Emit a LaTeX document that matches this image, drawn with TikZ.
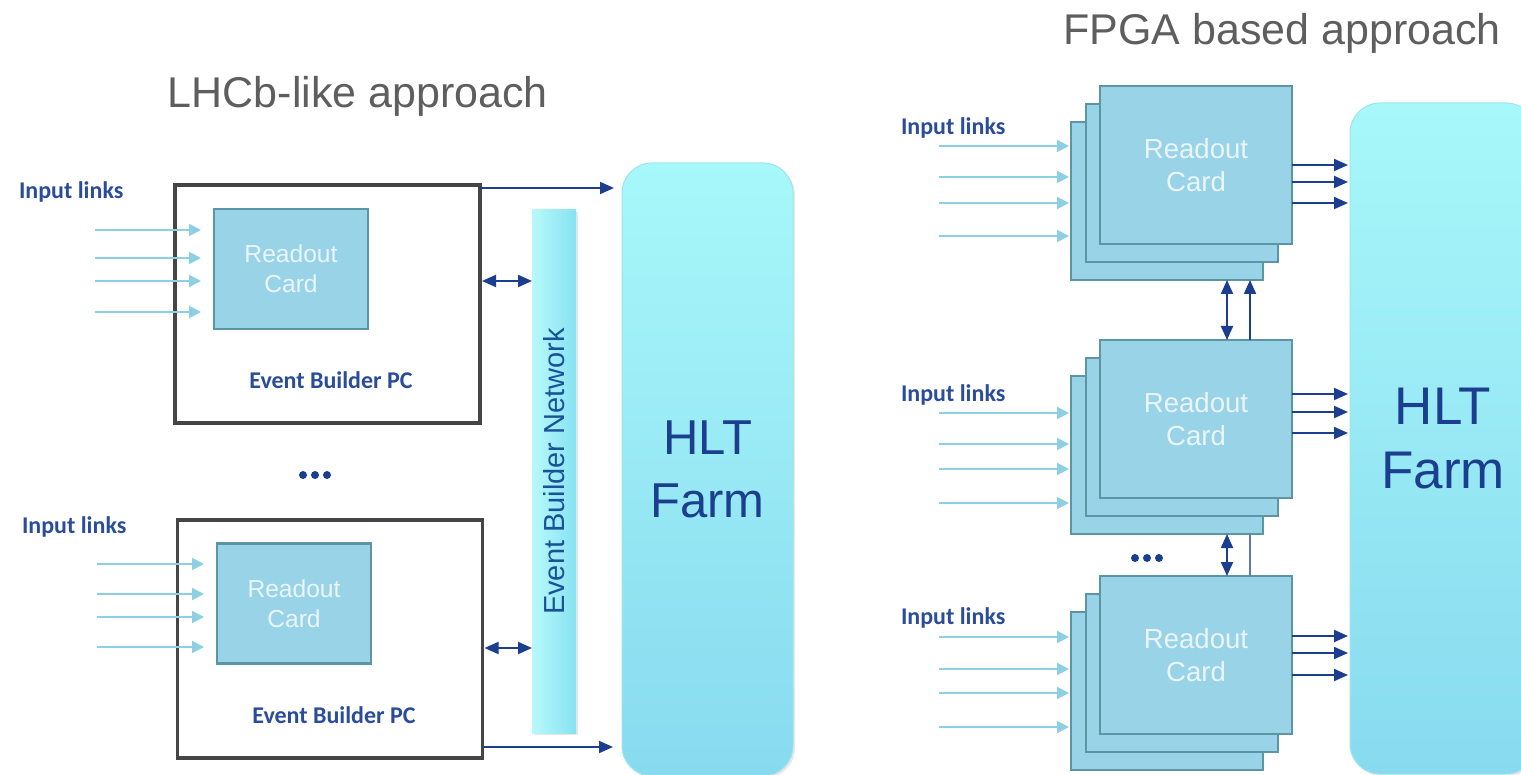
\documentclass[tikz,border=0pt]{standalone}
\usepackage{fontspec}
\setmainfont{Liberation Sans}
\newfontfamily\calfont{Carlito}
\usetikzlibrary{arrows.meta,shadows}

\definecolor{titlegray}{HTML}{5E5E5E}
\definecolor{navy}{HTML}{1B3F8E}
\definecolor{labelblue}{HTML}{2A4C9A}
\definecolor{linkblue}{HTML}{8DD0E2}
\definecolor{cardfill}{HTML}{98D3E7}
\definecolor{cardedge}{HTML}{5C96A5}
\definecolor{cardtext}{HTML}{EAF5F9}
\definecolor{pcedge}{HTML}{454545}
\definecolor{hlttop}{HTML}{A7F8FA}
\definecolor{hltbot}{HTML}{88DAEF}
\definecolor{hltedge}{HTML}{9EE4EE}
\definecolor{netleft}{HTML}{B8F9FB}
\definecolor{netright}{HTML}{86E2F1}

\begin{document}
\begin{tikzpicture}[x=0.5pt,y=-0.5pt,
  every node/.style={inner sep=0pt, outer sep=0pt},
  title/.style={font=\fontsize{21.5}{26}\selectfont, text=titlegray, anchor=base},
  pcbox/.style={draw=pcedge, line width=1.6pt, fill=white,
                minimum width=152.5pt, minimum height=119pt},
  smallcard/.style={draw=cardedge, line width=1.2pt, fill=cardfill, text=cardtext,
                    align=center, minimum width=77pt, minimum height=60pt,
                    font=\fontsize{12.3}{15}\selectfont},
  bigcard/.style={draw=cardedge, line width=1.4pt, fill=cardfill, text=cardtext,
                  align=center, minimum width=96pt, minimum height=79pt,
                  font=\fontsize{13.8}{16.5}\selectfont},
  pclabel/.style={font=\calfont\bfseries\fontsize{12}{15}\selectfont, text=labelblue},
  linklabel/.style={font=\calfont\bfseries\fontsize{12}{15}\selectfont, text=labelblue, anchor=west},
  hltbox/.style={draw=hltedge, line width=0.5pt, top color=hlttop, bottom color=hltbot,
                 rounded corners=15pt, text=navy, align=center,
                 drop shadow={opacity=0.18, shadow xshift=1pt, shadow yshift=-1pt}},
  netbar/.style={left color=netleft, right color=netright, draw=none,
                 minimum width=22pt, minimum height=261.5pt,
                 drop shadow={opacity=0.18, shadow xshift=1pt, shadow yshift=-1pt}},
  inlink/.style={draw=linkblue, line width=1pt, -{Triangle[length=6pt,width=6pt]}},
  outlink/.style={draw=navy, line width=1pt, -{Triangle[length=7pt,width=6pt]}},
  bilink/.style={draw=navy, line width=1pt,
                 {Triangle[length=7pt,width=6pt]}-{Triangle[length=7pt,width=6pt]}},
  plainlink/.style={draw=navy!70, line width=1pt},
  dot/.style={fill=navy}
]
\path[clip] (0,0) rectangle (1521,775);
\useasboundingbox (0,0) rectangle (1521,775);

% ---------- titles ----------
\node[title] (titleL) at (358,108) {LHCb-like approach};
\node[title] (titleR) at (1282,45) {FPGA based approach};

% ---------- LHCb-like: event builder PCs ----------
\node[pcbox] (pc1) at (327.5,304) {};
\node[pcbox] (pc2) at (330,639) {};
\node[smallcard] (rc1) at (291,269) {Readout\\Card};
\node[smallcard] (rc2) at (294,603.5) {Readout\\Card};
\node[pclabel] (pcl1) at (331,380) {Event Builder PC};
\node[pclabel] (pcl2) at (334,715) {Event Builder PC};
\node[linklabel] (inl1) at (19,192) {Input links};
\node[linklabel] (inl2) at (22,527) {Input links};

\foreach \y [count=\i] in {230,258,281,312} {
  \coordinate (a\i) at (95,\y);
  \draw[inlink, shorten >=6.5pt] (a\i) -- (rc1.west |- a\i);
}
\foreach \y [count=\i] in {564,594,617,647} {
  \coordinate (b\i) at (97,\y);
  \draw[inlink, shorten >=6.5pt] (b\i) -- (rc2.west |- b\i);
}

% vertical ellipsis between the two PCs
\foreach \x in {303,315,327} \fill[dot] (\x,475) circle (2pt);

% ---------- event builder network and HLT farm ----------
\node[netbar] (net) at (554,471.5) {};
\node[rotate=90, text=navy!90!cyan, font=\fontsize{14.5}{17}\selectfont] (netl) at (net.center) {Event Builder Network};

\node[hltbox, minimum width=85.5pt, minimum height=306.5pt,
      font=\fontsize{24.5}{31.5}\selectfont] (hltL) at (707.5,469.5) {HLT\\Farm};

\draw[outlink, shorten >=4pt] (pc1.east |- 0,188) -- (hltL.west |- 0,188);
\draw[outlink, shorten >=4.5pt] (pc2.east |- 0,747) -- (hltL.west |- 0,747);
\draw[bilink, shorten <=1pt] (pc1.east |- 0,281) -- (net.west |- 0,281);
\draw[bilink, shorten <=1pt] (pc2.east |- 0,648) -- (net.west |- 0,648);

% ---------- FPGA based: stacked readout cards ----------
\foreach \k/\t in {1/86,2/340,3/576} {
  \node[bigcard] (back\k) at (1167,\t+115) {};
  \node[bigcard] (mid\k)  at (1182,\t+97) {};
  \node[bigcard] (front\k) at (1196,\t+79) {Readout\\Card};
}

\node[linklabel] (inr1) at (901,128) {Input links};
\node[linklabel] (inr2) at (901,395) {Input links};
\node[linklabel] (inr3) at (901,618) {Input links};

\foreach \y [count=\i] in {146,177,203,236} {
  \coordinate (c\i) at (939,\y);
  \draw[inlink, shorten >=1pt] (c\i) -- (back1.west |- c\i);
}
\foreach \y [count=\i] in {413,444,469,503} {
  \coordinate (d\i) at (939,\y);
  \draw[inlink, shorten >=1pt] (d\i) -- (back2.west |- d\i);
}
\foreach \y [count=\i] in {637,669,693,727} {
  \coordinate (e\i) at (939,\y);
  \draw[inlink, shorten >=1pt] (e\i) -- (back3.west |- e\i);
}

\node[hltbox, minimum width=93pt, minimum height=335.5pt,
      font=\fontsize{26.5}{32}\selectfont] (hltR) at (1443,438.5) {HLT\\Farm};

\foreach \y in {165,182,203} \draw[outlink, shorten >=1pt] (front1.east |- 0,\y) -- (hltR.west |- 0,\y);
\foreach \y in {394,412,433} \draw[outlink, shorten >=1pt] (front2.east |- 0,\y) -- (hltR.west |- 0,\y);
\foreach \y in {636,653,675} \draw[outlink, shorten >=1pt] (front3.east |- 0,\y) -- (hltR.west |- 0,\y);

% links between neighbouring card stacks
\draw[bilink] (1227,0 |- back1.south) -- (1227,0 |- front2.north);
\draw[outlink] (1250,0 |- front2.north) -- (1250,0 |- back1.south);
\draw[bilink] (1227,0 |- back2.south) -- (1227,0 |- front3.north);
\draw[plainlink] (1250,0 |- back2.south) -- (1250,0 |- front3.north);

% vertical ellipsis between the lower stacks
\foreach \x in {1135,1147,1159} \fill[dot] (\x,558) circle (2pt);
\end{tikzpicture}
\end{document}
